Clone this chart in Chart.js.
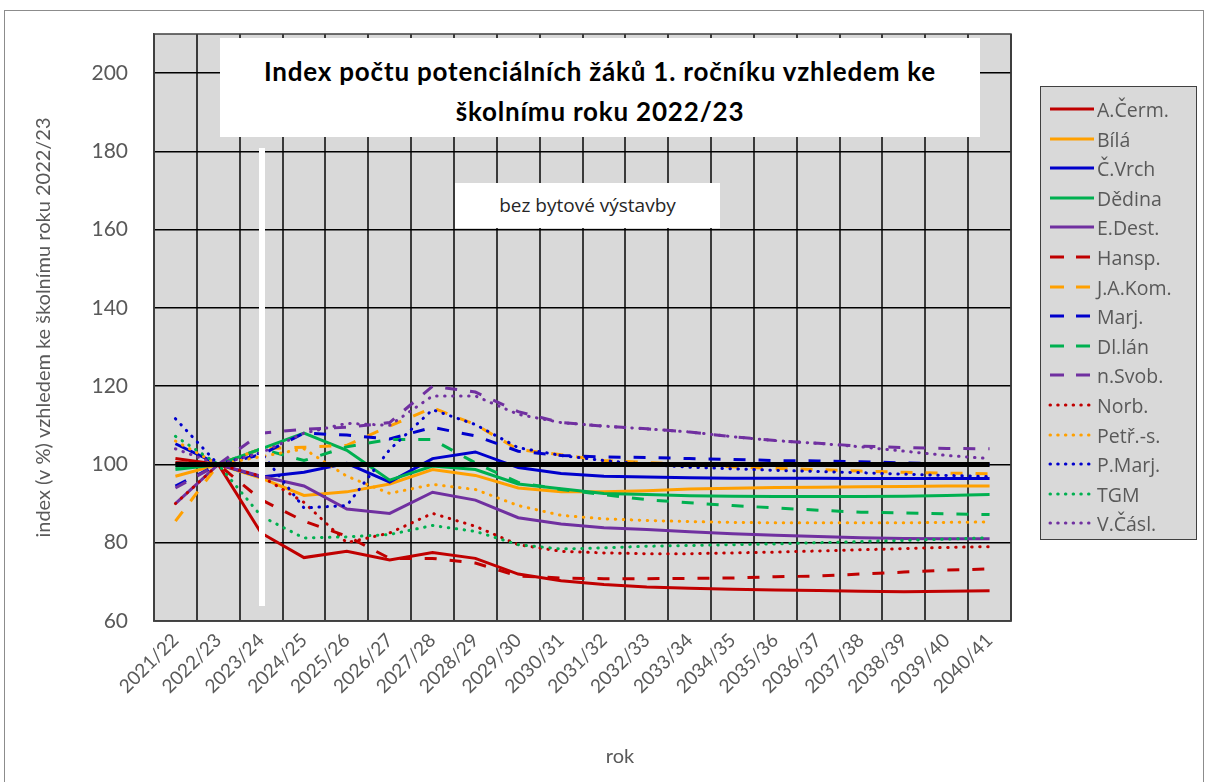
<!DOCTYPE html>
<html>
<head>
<meta charset="utf-8">
<script src="https://cdn.jsdelivr.net/npm/chart.js@4"></script>
<style>
  body { margin: 0; background: #fff; }
  #wrap { position: relative; width: 1206px; height: 782px; overflow: hidden; font-family: Lato, sans-serif; }
  #frame { position: absolute; left: 4px; top: 10px; width: 1198px; height: 800px; border: 1px solid #8c8c8c; }
  #titleBox { position: absolute; left: 220px; top: 38px; width: 760px; height: 99px; background: #fff;
    font: bold 26px Lato, sans-serif; letter-spacing: 0.8px; color: #000; text-align: center; line-height: 40px;
    padding-top: 13px; box-sizing: border-box; }
  #noteBox { position: absolute; left: 455px; top: 183px; width: 265px; height: 45px; background: #fff;
    font: 19px "Open Sans", sans-serif; color: #262626; text-align: center; line-height: 45px; }
  #whiteBar { position: absolute; left: 259px; top: 148px; width: 6px; height: 458px; background: #fff; }
  #xTitle { position: absolute; left: 570px; top: 743px; width: 100px; text-align: center; font: 20px Lato, sans-serif; color: #595959; }
  #legend { position: absolute; left: 1040px; top: 86px; width: 157px; height: 454px; background: #d9d9d9;
    border: 1.5px solid #404040; box-sizing: border-box; }
  .item { position: absolute; left: 0; height: 30px; width: 155px; }
  .item svg { position: absolute; left: 7px; top: 0; }
  .item span { position: absolute; left: 56px; top: 2px; font: 19.5px "Open Sans", sans-serif; color: #595959; white-space: nowrap; }
</style>
</head>
<body>
<div id="wrap">
  <div id="frame"></div>
  <canvas id="indexChart"></canvas>
  <div id="titleBox">Index počtu potenciálních žáků 1. ročníku vzhledem ke<br>školnímu roku 2022/23</div>
  <div id="noteBox">bez bytové výstavby</div>
  <div id="whiteBar"></div>
  <div id="xTitle">rok</div>
  <div id="legend"></div>
</div>
<script>
var years = ['2021/22', '2022/23', '2023/24', '2024/25', '2025/26', '2026/27', '2027/28', '2028/29', '2029/30', '2030/31',
    '2031/32', '2032/33', '2033/34', '2034/35', '2035/36', '2036/37', '2037/38', '2038/39', '2039/40', '2040/41'];

var aCerm = [101.5, 100, 82.5, 76.2, 77.8, 75.6, 77.5, 76, 72, 70.3, 69.3, 68.7, 68.4, 68.1, 67.9, 67.8, 67.6, 67.5, 67.6, 67.7];
var bila = [97, 100, 96.5, 92.1, 93, 95, 98.7, 97.2, 94, 93, 93, 93.3, 93.7, 93.9, 94.1, 94.2, 94.3, 94.4, 94.5, 94.5];
var cVrch = [105.3, 100, 96.8, 98, 100.3, 95.5, 101.5, 103.2, 99.2, 97.7, 97, 96.8, 96.6, 96.5, 96.5, 96.5, 96.4, 96.4, 96.4, 96.4];
var dedina = [98.7, 100, 104, 108, 103.6, 96, 99.6, 98.7, 95, 93.8, 92.6, 92.3, 92, 91.9, 91.8, 91.8, 91.8, 91.9, 92.1, 92.3];
var eDest = [90, 100, 97, 94.5, 88.6, 87.5, 92.9, 90.9, 86.4, 84.8, 83.8, 83.4, 82.8, 82.3, 81.9, 81.6, 81.3, 81.1, 81, 81];
var hansp = [100.5, 100, 91, 85.5, 81.7, 76, 76, 74.8, 71.5, 71, 70.8, 70.8, 70.9, 71, 71.3, 71.5, 72, 72.5, 73, 73.3];
var jaKom = [85.5, 100, 104, 104.4, 104.9, 109.8, 114.5, 110.2, 103.8, 102.5, 101, 100.5, 100, 99.4, 99, 98.7, 98.3, 98, 97.8, 97.6];
var marj = [94.5, 100, 102.5, 108, 107.5, 106.5, 109.5, 107.3, 103.4, 102.3, 101.9, 101.8, 101.5, 101.3, 101, 100.9, 100.7, 100.4, 100.2, 100];
var dlLan = [99.5, 100, 104, 101, 104.5, 106.4, 106.4, 100.4, 95.4, 93.6, 92.3, 91, 90.2, 89.5, 88.9, 88.3, 87.8, 87.6, 87.4, 87.2];
var nSvob = [94, 100, 108, 109, 109.5, 110.7, 120, 118.5, 113.5, 110.7, 109.8, 109.1, 108.3, 107.1, 106.1, 105.4, 104.7, 104.3, 104.1, 104];
var norb = [90, 100, 97, 90.3, 80, 82.5, 87.5, 84.2, 79.5, 77.8, 77.4, 77.2, 77.2, 77.4, 77.6, 77.9, 78.2, 78.5, 78.8, 79];
var petrS = [106, 100, 102, 104, 97, 92.6, 94.9, 93.6, 89.5, 87, 86.1, 85.7, 85.4, 85.2, 85.1, 85.1, 85.1, 85.1, 85.2, 85.3];
var pMarj = [111.7, 100, 103, 88.9, 89.5, 103.8, 114, 110.2, 104.3, 102.3, 101, 100, 99.3, 98.9, 98.5, 98.2, 97.9, 97.5, 97.2, 96.9];
var tgm = [107.2, 100, 86.8, 81.2, 81.5, 82.1, 84.4, 82.9, 79.5, 78.4, 78.7, 79.1, 79.3, 79.5, 79.7, 80, 80.3, 80.6, 80.9, 81.3];
var vCasl = [104, 100, 103, 108, 110.5, 110, 117.5, 117.5, 112.8, 110.7, 109.8, 109.1, 108.3, 107.1, 106.1, 105.4, 104.5, 103.4, 102.3, 101.5];
var baseLine = [100, 100, 100, 100, 100, 100, 100, 100, 100, 100, 100, 100, 100, 100, 100, 100, 100, 100, 100, 100];

var RED = '#C00000', ORANGE = '#FFA000', BLUE = '#0000CC', GREEN = '#00B050', PURPLE = '#7030A0';
var SOLID = [], DASH = [12, 13], DOT = [0.5, 7.5];

var series = [
    ['A.Čerm.', aCerm, RED, SOLID],
    ['Bílá', bila, ORANGE, SOLID],
    ['Č.Vrch', cVrch, BLUE, SOLID],
    ['Dědina', dedina, GREEN, SOLID],
    ['E.Dest.', eDest, PURPLE, SOLID],
    ['Hansp.', hansp, RED, DASH],
    ['J.A.Kom.', jaKom, ORANGE, DASH],
    ['Marj.', marj, BLUE, DASH],
    ['Dl.lán', dlLan, GREEN, DASH],
    ['n.Svob.', nSvob, PURPLE, DASH],
    ['Norb.', norb, RED, DOT],
    ['Petř.-s.', petrS, ORANGE, DOT],
    ['P.Marj.', pMarj, BLUE, DOT],
    ['TGM', tgm, GREEN, DOT],
    ['V.Čásl.', vCasl, PURPLE, DOT]
];

var datasets = series.map((s, i) => {
    return {
        label: s[0],
        data: s[1],
        borderColor: s[2],
        backgroundColor: s[2],
        borderDash: s[3],
        borderCapStyle: s[3] === DOT ? 'round' : 'butt',
        borderWidth: 3,
        pointRadius: 0,
        fill: false,
        order: 100 - i
    };
});

// thick black reference line at 100, drawn on top of everything
datasets.push({
    label: '100',
    data: baseLine,
    borderColor: '#000',
    borderWidth: 5,
    pointRadius: 0,
    fill: false,
    order: 0
});

// grey plot area and its frame
var plotArea = {
    id: 'plotArea',
    beforeDraw(chart) {
        var a = chart.chartArea, ctx = chart.ctx;
        ctx.save();
        ctx.fillStyle = '#D9D9D9';
        ctx.fillRect(a.left, a.top, a.right - a.left, a.bottom - a.top);
        ctx.restore();
    },
    afterDraw(chart) {
        var a = chart.chartArea, ctx = chart.ctx;
        ctx.save();
        ctx.strokeStyle = '#404040';
        ctx.lineWidth = 1.5;
        ctx.strokeRect(a.left, a.top, a.right - a.left, a.bottom - a.top);
        ctx.restore();
    }
};

// fixed axis sizes so the plot area lands where it is in the picture
var fixSize = (prop, size) => (scale) => {
    scale[prop] = size;
    scale.paddingTop = 0;
    scale.paddingBottom = 0;
    scale.paddingLeft = 0;
    scale.paddingRight = 0;
};

var chart = new Chart(document.getElementById('indexChart'), {
    type: 'line',
    data: { labels: years, datasets: datasets },
    options: {
        responsive: true,
        maintainAspectRatio: false,
        animation: false,
        layout: { padding: { left: 0, top: 34, right: 195, bottom: 0 } },
        plugins: {
            legend: { display: false },
            tooltip: { enabled: false }
        },
        scales: {
            x: {
                offset: true,
                afterFit: fixSize('height', 161),
                grid: { offset: true, color: '#3a3a3a', lineWidth: 2, drawTicks: false },
                border: { color: '#404040', width: 1.5 },
                ticks: {
                    minRotation: 45,
                    maxRotation: 45,
                    padding: 8,
                    color: '#595959',
                    font: { family: 'Lato', size: 19 }
                }
            },
            y: {
                min: 60,
                max: 210,
                afterFit: fixSize('width', 154),
                grid: { color: '#000', lineWidth: 1.5, drawTicks: false },
                border: { color: '#404040', width: 1.5 },
                ticks: {
                    stepSize: 20,
                    includeBounds: false,
                    padding: 26,
                    color: '#595959',
                    font: { family: 'Lato', size: 21 }
                },
                title: {
                    display: true,
                    text: 'index (v %) vzhledem ke školnímu roku 2022/23',
                    color: '#595959',
                    font: { family: 'Lato', size: 20 },
                    padding: { top: 32, bottom: 0 }
                }
            }
        }
    },
    plugins: [plotArea]
});

// legend box on the right
var legend = document.getElementById('legend');
series.forEach((s, i) => {
    var item = document.createElement('div');
    item.className = 'item';
    item.style.top = (7 + i * 29.6) + 'px';
    var dash = s[3] === DASH ? ' stroke-dasharray="14 12"' : (s[3] === DOT ? ' stroke-dasharray="0.5 7.2" stroke-linecap="round"' : '');
    item.innerHTML = '<svg width="50" height="30"><line x1="2" y1="15" x2="46" y2="15" stroke="' + s[2] +
        '" stroke-width="3"' + dash + '/></svg><span>' + s[0] + '</span>';
    legend.appendChild(item);
});
</script>
</body>
</html>
